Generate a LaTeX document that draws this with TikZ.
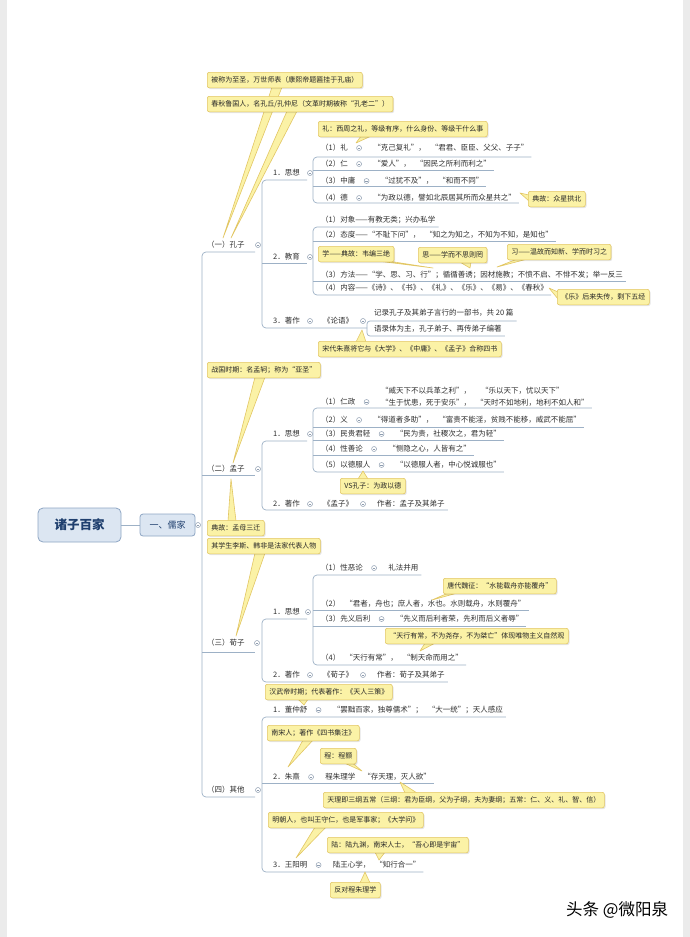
\documentclass[tikz,border=0pt]{standalone}
\usepackage{fontspec}
\setmainfont{Noto Sans CJK SC}
\usetikzlibrary{calc}
\pgfdeclarelayer{bgl}
\pgfdeclarelayer{taill}
\pgfsetlayers{bgl,taill,main}
\definecolor{brc}{HTML}{9DB1C6}
\definecolor{mkc}{HTML}{8E9DB0}
\definecolor{nfill}{HTML}{FBF2A6}
\definecolor{nbd}{HTML}{E2C664}
\definecolor{tcol}{HTML}{2E2E2E}
\definecolor{rootfill}{HTML}{DCE6F2}
\definecolor{rootbd}{HTML}{8EA6C4}
\definecolor{roottxt}{HTML}{1F3F6E}
\definecolor{edgegray}{HTML}{EBEBEB}
\tikzset{
 br/.style={draw=brc, line width=0.7pt},
 tp/.style={anchor=west, inner sep=0pt, font=\fontsize{7.5}{9}\selectfont, text=tcol},
 nt/.style={anchor=north west, draw=nbd, fill=nfill, rounded corners=2pt, inner xsep=4pt, inner ysep=0pt, minimum height=15.5pt, font=\fontsize{7}{8}\selectfont, text=black!85, line width=0.6pt,
   preaction={fill=black, fill opacity=0.10, transform canvas={xshift=1.2pt,yshift=-1.2pt}}},
 mk/.style={circle, draw=mkc, fill=white, minimum size=5pt, inner sep=0pt, line width=0.5pt,
   path picture={\draw[mkc, line width=0.4pt] ([xshift=1.2pt]path picture bounding box.west) -- ([xshift=-1.2pt]path picture bounding box.east);}},
 rootbox/.style={draw=rootbd, fill=rootfill, text=roottxt, line width=0.8pt},
}
\newcommand\trow[5]{%
 \node[tp] (#1) at (#2,#3) {#4};
 \node[mk] (#1m) at ($(#1.east)+(11,0)$) {};
 \node[tp] (#1c) at ($(#1m)+(14,0)$) {#5};}
\newcommand\ntail[3]{\begin{pgfonlayer}{taill}\fill[nfill] #1 -- #3 -- #2 -- cycle;\draw[nbd,line width=0.6pt,line join=round] #1 -- #3 -- #2;\end{pgfonlayer}}
\newcommand\gp{\hspace{5pt}}
\begin{document}
\begin{tikzpicture}[x=1pt,y=-1pt]
\useasboundingbox (0,0) rectangle (690,937);
\begin{pgfonlayer}{bgl}
\fill[white] (0,0) rectangle (690,937);
\fill[edgegray] (0,0) rectangle (7,937);
\fill[edgegray] (683,0) rectangle (690,937);
\end{pgfonlayer}

% ---------- root ----------
\node[rootbox, minimum width=83pt, minimum height=34pt, rounded corners=5pt, font=\fontsize{12.5}{14}\selectfont\bfseries] (root) at (79.5,525) {诸子百家};
\node[rootbox, minimum width=55pt, minimum height=22pt, rounded corners=3pt, font=\fontsize{9}{11}\selectfont] (rj) at (167.5,525) {一、儒家};
\node[mk] (rjm) at (198,525) {};

% ---------- 孔子 ----------
\node[tp] (kz) at (207,245) {（一）孔子};
\node[mk] (kzm) at (258,245) {};
\node[tp] (kz1) at (273,173) {1．思想};
\node[mk] (kz1m) at (310,173) {};
\node[tp] (kz2) at (273,257) {2．教育};
\node[mk] (kz2m) at (310,257) {};
\node[tp] (kz3) at (273,321) {3．著作};
\node[mk] (kz3m) at (310,321) {};

\trow{a1}{321}{148}{（1）礼}{“克己复礼”，\gp“君君、臣臣、父父、子子”}
\trow{a2}{321}{164}{（2）仁}{“爱人”，\gp“因民之所利而利之”}
\trow{a3}{321}{181}{（3）中庸}{“过犹不及”，\gp“和而不同”}
\trow{a4}{321}{198}{（4）德}{“为政以德，譬如北辰居其所而众星共之”}

\node[tp] (b1) at (321,220) {（1）对象——有教无类；兴办私学};
\node[tp] (b2) at (321,235) {（2）态度——“不耻下问”，\gp“知之为知之，不知为不知，是知也”};
\node[tp] (b3) at (321,275) {（3）方法——“学、思、习、行”；循循善诱；因材施教；不愤不启、不悱不发；举一反三};
\node[tp] (b4) at (321,288) {（4）内容——《诗》、《书》、《礼》、《乐》、《易》、《春秋》};

\node[tp] (lunyu) at (323,321) {《论语》};
\node[mk] (lym) at (363,321) {};
\node[tp] (ly1) at (374,313) {记录孔子及其弟子言行的一部书，共 20 篇};
\node[tp] (ly2) at (374,329) {语录体为主，孔子弟子、再传弟子编著};

% notes 孔子
\node[nt] (n1) at (207,72) {被称为至圣，万世师表（康熙帝题匾挂于孔庙）};
\coordinate (t1) at (223,238);
\ntail{($(n1.south west)+(65,-1)$)}{($(n1.south west)+(75,-1)$)}{(t1)}
\node[nt] (n2) at (207,96) {春秋鲁国人，名孔丘/孔仲尼（文革时期被称“孔老二”）};
\coordinate (t2) at (231,238);
\ntail{($(n2.south west)+(80,-1)$)}{($(n2.south west)+(90,-1)$)}{(t2)}

\node[nt] (n3) at (318,121) {礼：西周之礼，等级有序，什么身份、等级干什么事};
\coordinate (t3) at (356,143);
\ntail{($(n3.south west)+(43,-1)$)}{($(n3.south west)+(53,-1)$)}{(t3)}

\node[nt] (n4) at (528,191) {典故：众星拱北};
\coordinate (t4) at (520,193);
\ntail{($(n4.north west)+(1,4)$)}{($(n4.north west)+(1,10)$)}{(t4)}

\node[nt] (n5) at (318,246) {学——典故：韦编三绝};
\coordinate (t5) at (433,268);
\ntail{($(n5.south east)+(-16,-1)$)}{($(n5.south east)+(-6,-1)$)}{(t5)}

\node[nt] (n6) at (418,247) {思——学而不思则罔};
\coordinate (t6) at (470,268);
\ntail{($(n6.south west)+(42,-1)$)}{($(n6.south west)+(53,-1)$)}{(t6)}

\node[nt] (n7) at (507,244) {习——温故而知新、学而时习之};
\coordinate (t7) at (497,267);
\ntail{($(n7.south west)+(10,-1)$)}{($(n7.south west)+(20,-1)$)}{(t7)}

\node[nt] (n8) at (557,289) {《乐》后来失传，剩下五经};
\coordinate (t8) at (549,288);
\ntail{($(n8.north west)+(1,3)$)}{($(n8.north west)+(1,10)$)}{(t8)}

\node[nt] (n9) at (318,341) {宋代朱熹将它与《大学》、《中庸》、《孟子》合称四书};
\coordinate (t9) at (362,330);
\ntail{($(n9.north west)+(38,1)$)}{($(n9.north west)+(48,1)$)}{(t9)}

% ---------- 孟子 ----------
\node[nt] (n10) at (207,362) {战国时期：名孟轲；称为“亚圣”};
\coordinate (t10) at (233,463);
\ntail{($(n10.south west)+(48,-1)$)}{($(n10.south west)+(58,-1)$)}{(t10)}

\node[tp] (mz) at (207,469) {（二）孟子};
\node[mk] (mzm) at (258,469) {};
\node[tp] (mz1) at (273,434) {1．思想};
\node[mk] (mz1m) at (310,434) {};
\node[tp] (mz2) at (273,504) {2．著作};
\node[mk] (mz2m) at (310,504) {};
\node[tp] (mzbook) at (323,504) {《孟子》};
\node[mk] (mzbm) at (363,504) {};
\node[tp] (mzau) at (377,504) {作者：孟子及其弟子};

\node[tp] (c1) at (321,402) {（1）仁政};
\node[mk] (c1m) at ($(c1.east)+(11,0)$) {};
\node[tp, align=left, font=\fontsize{7.5}{12}\selectfont] (c1c) at (381,397) {“威天下不以兵革之利”，\hspace{10pt}“乐以天下，忧以天下”\\“生于忧患，死于安乐”，\gp“天时不如地利，地利不如人和”};
\trow{c2}{321}{420}{（2）义}{“得道者多助”，\gp“富贵不能淫，贫贱不能移，威武不能屈”}
\trow{c3}{321}{434}{（3）民贵君轻}{“民为贵，社稷次之，君为轻”}
\trow{c4}{321}{449}{（4）性善论}{“恻隐之心，人皆有之”}
\trow{c5}{321}{465}{（5）以德服人}{“以德服人者，中心悦诚服也”}

\node[nt] (n11) at (340,478) {VS孔子：为政以德};
\coordinate (t11) at (363,471);
\ntail{($(n11.north west)+(18,1)$)}{($(n11.north west)+(28,1)$)}{(t11)}

\node[nt] (n12) at (207,520) {典故：孟母三迁};
\coordinate (t12) at (231,479);
\ntail{($(n12.north west)+(21,1)$)}{($(n12.north west)+(29,1)$)}{(t12)}

\node[nt] (n13) at (207,538) {其学生李斯、韩非是法家代表人物};
\coordinate (t13) at (236,636);
\ntail{($(n13.south west)+(48,-1)$)}{($(n13.south west)+(58,-1)$)}{(t13)}

% ---------- 荀子 ----------
\node[tp] (xz) at (207,643) {（三）荀子};
\node[mk] (xzm) at (257,643) {};
\node[tp] (xz1) at (273,612) {1．思想};
\node[mk] (xz1m) at (308,612) {};
\node[tp] (xz2) at (273,675) {2．著作};
\node[mk] (xz2m) at (310,675) {};
\node[tp] (xzbook) at (323,675) {《荀子》};
\node[mk] (xzbm) at (363,675) {};
\node[tp] (xzau) at (377,675) {作者：荀子及其弟子};

\trow{d1}{321}{568}{（1）性恶论}{礼法并用}
\node[tp] (d2) at (321,604) {（2）\gp“君者，舟也；庶人者，水也。水则载舟，水则覆舟”};
\trow{d3}{321}{619}{（3）先义后利}{“先义而后利者荣，先利而后义者辱”}
\node[tp] (d4) at (321,658) {（4）\gp“天行有常”，\gp“制天命而用之”};

\node[nt] (n14) at (443,578) {唐代魏征：“水能载舟亦能覆舟”};
\coordinate (t14) at (432,600);
\ntail{($(n14.south west)+(5,-1)$)}{($(n14.south west)+(14,-1)$)}{(t14)}

\node[nt] (n15) at (385,628) {“天行有常，不为尧存，不为桀亡”体现唯物主义自然观};
\coordinate (t15) at (420,651);
\ntail{($(n15.south west)+(40,-1)$)}{($(n15.south west)+(50,-1)$)}{(t15)}

\node[nt] (n16) at (265,684) {汉武帝时期；代表著作：《天人三策》};
\coordinate (t16) at (304,705);
\ntail{($(n16.south west)+(33,-1)$)}{($(n16.south west)+(43,-1)$)}{(t16)}

% ---------- 其他 ----------
\node[tp] (qt) at (207,790) {（四）其他};
\node[mk] (qtm) at (258,790) {};
\trow{qt1}{273}{710}{1．董仲舒}{“罢黜百家，独尊儒术”；\gp“大一统”；天人感应}
\trow{qt2}{273}{777}{2．朱熹}{程朱理学\hspace{8pt}“存天理，灭人欲”}
\trow{qt3}{273}{865}{3．王阳明}{陆王心学，\gp“知行合一”}

\node[nt] (n17) at (267,725) {南宋人；著作《四书集注》};
\coordinate (t17) at (288,767);
\ntail{($(n17.south west)+(36,-1)$)}{($(n17.south west)+(46,-1)$)}{(t17)}

\node[nt] (n18) at (320,748) {程：程颢};
\coordinate (t18) at (362,771);
\ntail{($(n18.south east)+(-12,-1)$)}{($(n18.south east)+(-4,-1)$)}{(t18)}

\node[nt] (n19) at (323,792) {天理即三纲五常（三纲：君为臣纲，父为子纲，夫为妻纲；五常：仁、义、礼、智、信）};
\coordinate (t19) at (400,782);
\ntail{($(n19.north west)+(82,1)$)}{($(n19.north west)+(94,1)$)}{(t19)}

\node[nt] (n20) at (268,812) {明朝人，也叫王守仁，也是军事家；《大学问》};
\coordinate (t20) at (296,858);
\ntail{($(n20.south west)+(47,-1)$)}{($(n20.south west)+(58,-1)$)}{(t20)}

\node[nt] (n21) at (327,837) {陆：陆九渊，南宋人士，“吾心即是宇宙”};
\coordinate (t21) at (379,860);
\ntail{($(n21.south west)+(48,-1)$)}{($(n21.south west)+(58,-1)$)}{(t21)}

\node[nt] (n22) at (330,882) {反对程朱理学};
\coordinate (t22) at (365,872);
\ntail{($(n22.north west)+(30,1)$)}{($(n22.north west)+(40,1)$)}{(t22)}

% watermark
\node[anchor=west, inner sep=0pt, font=\fontsize{16.5}{18}\selectfont, text=black] (wm) at (566,910) {头条 @微阳泉};

% ---------- tree lines ----------
\begin{pgfonlayer}{bgl}
\draw[br] (root.east) -- (rj.west);
\draw[br, rounded corners=4pt] (255,252) -- (202,252) -- (202,797) -- (255,797);
\draw[br] (202,475) -- (255,475);
\draw[br] (202,652) -- (255,652);
% 孔子
\draw[br, rounded corners=4pt] (307,180) -- (262,180) -- (262,328) -- (367,328);
\draw[br] (262,263) -- (307,263);
\draw[br, rounded corners=4pt, shorten <=-3pt, shorten >=-3pt] (a1c.east |- 0,157) -- (313,157) -- (313,203) -- (a4c.east |- 0,203);
\draw[br, shorten >=-3pt] (313,170) -- (a2c.east |- 0,170);
\draw[br, shorten >=-3pt] (313,186) -- (a3c.east |- 0,186);
\draw[br, rounded corners=4pt, shorten <=-3pt, shorten >=-3pt] (b1.east |- 0,227) -- (313,227) -- (313,295) -- (b4.east |- 0,295);
\draw[br, shorten >=-3pt] (313,241) -- (b2.east |- 0,241);
\draw[br, shorten >=-3pt] (313,281) -- (b3.east |- 0,281);
\draw[br, rounded corners=3pt, shorten <=-3pt, shorten >=-3pt] (ly1.east |- 0,321) -- (367,321) -- (367,336) -- (ly2.east |- 0,336);
% 孟子
\draw[br, rounded corners=4pt, shorten >=-3pt] (307,441) -- (262,441) -- (262,510) -- (mzau.east |- 0,510);
\draw[br, rounded corners=4pt, shorten <=-3pt, shorten >=-3pt] (c1c.east |- 0,408) -- (313,408) -- (313,472) -- (c5c.east |- 0,472);
\draw[br, shorten >=-3pt] (313,427) -- (c2c.east |- 0,427);
\draw[br, shorten >=-3pt] (313,440) -- (c3c.east |- 0,440);
\draw[br, shorten >=-3pt] (313,455) -- (c4c.east |- 0,455);
% 荀子
\draw[br, rounded corners=4pt, shorten >=-3pt] (307,619) -- (262,619) -- (262,682) -- (xzau.east |- 0,682);
\draw[br, rounded corners=4pt, shorten <=-3pt, shorten >=-3pt] (d1c.east |- 0,575) -- (313,575) -- (313,665) -- (d4.east |- 0,665);
\draw[br, shorten >=-3pt] (313,610) -- (d2.east |- 0,610);
\draw[br, shorten >=-3pt] (313,626) -- (d3c.east |- 0,626);
% 其他
\draw[br, rounded corners=4pt, shorten <=-3pt, shorten >=-3pt] (qt1c.east |- 0,717) -- (262,717) -- (262,872) -- (qt3c.east |- 0,872);
\draw[br, shorten >=-3pt] (262,783) -- (qt2c.east |- 0,783);
\end{pgfonlayer}
\end{tikzpicture}
\end{document}
